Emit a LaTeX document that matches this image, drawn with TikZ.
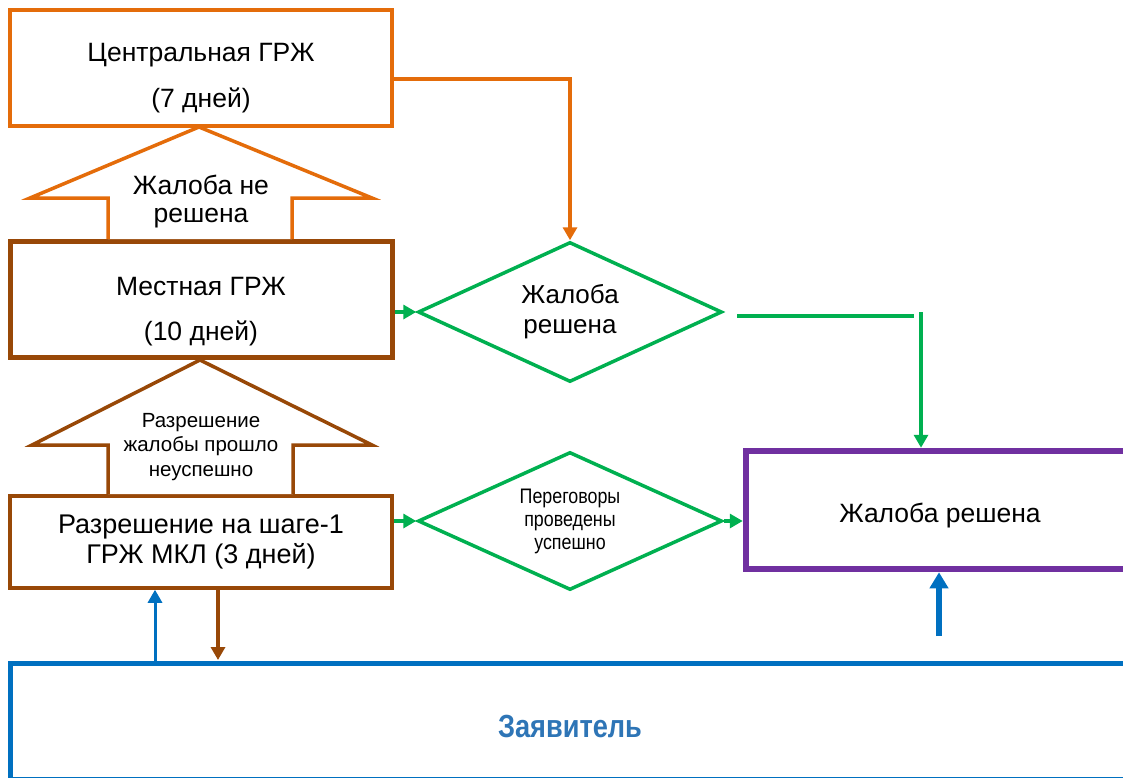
\documentclass[tikz,border=0pt]{standalone}
\usepackage{fontspec}
\setmainfont{Liberation Sans}
\newfontfamily\narrowsf[FakeStretch=0.85]{Liberation Sans}
\usetikzlibrary{shapes.geometric,arrows.meta,positioning,calc}
\definecolor{grzhorange}{RGB}{228,108,10}
\definecolor{grzhbrown}{RGB}{152,72,7}
\definecolor{grzhgreen}{RGB}{0,176,80}
\definecolor{grzhpurple}{RGB}{112,48,160}
\definecolor{grzhblue}{RGB}{0,112,192}
\definecolor{grzhtext}{RGB}{46,117,182}

\begin{document}
\begin{tikzpicture}[
x=1pt, y=-1pt,
stage/.style={
  draw,
  rectangle,
  fill=white,
  inner sep=0pt,
  minimum width=382pt
  },
caption/.style={
  align=center,
  inner sep=0pt,
  font=\fontsize{26.5}{46}\selectfont
  },
check/.style={
  draw=grzhgreen,
  diamond,
  line width=3.5pt,
  align=center,
  inner sep=0pt,
  shape aspect=2.2,
  minimum width=304pt,
  minimum height=140pt
  },
bigarrow/.style={
  line width=3.5pt,
  fill=white,
  line join=miter
  },
flow/.style={
  line width=3.5pt,
  -{Triangle[length=13pt,width=14pt]}
  },
>=latex
]
\useasboundingbox (0,0) rectangle (1123,778);

% стадии
\node[stage, draw=grzhorange, line width=3.5pt, minimum height=116pt] at (201,68)
  (central) {};
\node[caption] at (201,78) (centraltext) {Центральная ГРЖ\\(7 дней)};
\node[stage, draw=grzhbrown, line width=5pt, minimum height=116pt] at (201,299)
  (local) {};
\node[caption, font=\fontsize{26.5}{45}\selectfont] at (201,312)
  (localtext) {Местная ГРЖ\\(10 дней)};
\node[stage, draw=grzhbrown, line width=3.5pt, minimum height=92pt,
  caption, font=\fontsize{27}{30}\selectfont] at (201,542)
  (step1) {Разрешение на шаге-1\\ГРЖ МКЛ (3 дней)};

% широкие стрелки
\draw[bigarrow, draw=grzhorange] (108,239) -- (108,198) -- (30,198) -- (199,127)
  -- (372,198) -- (292,198) -- (292,239);
\node[caption, font=\fontsize{26.5}{28}\selectfont] at (201,202)
  (notsolved) {Жалоба не\\решена};
\draw[bigarrow, draw=grzhbrown] (108,494) -- (108,445) -- (32,445) -- (200,360)
  -- (372,445) -- (293,445) -- (293,494);
\node[caption, font=\fontsize{20.5}{24.5}\selectfont] at (201,447)
  (failed) {Разрешение\\жалобы прошло\\неуспешно};

% ромбы
\node[check, font=\fontsize{26}{30}\selectfont] at (570,312)
  (solved1) {Жалоба\\решена};
\node[check, minimum height=138pt, font=\narrowsf\fontsize{21}{23}\selectfont] at (570,521)
  (talks) {Переговоры\\проведены\\успешно};

% итог и заявитель
\node[draw=grzhpurple, line width=6.5pt, minimum width=389pt, minimum height=118pt]
  at (940.5,510) (result) {};
\node[caption, font=\fontsize{26.5}{30}\selectfont] at (940,516)
  (resulttext) {Жалоба решена};
\node[draw=grzhblue, line width=5pt, minimum width=1125pt, minimum height=116.5pt]
  at (572.5,721.25) (applicant) {};
\node[font=\narrowsf\bfseries\fontsize{32}{34}\selectfont, text=grzhtext] at (570,726)
  (applabel) {Заявитель};

% связи
\draw[flow, grzhorange] ([yshift=-11pt]central.east) -| (solved1.north);
\draw[flow, grzhgreen] (local.east |- solved1.west) -- (solved1.west);
\coordinate (gapl) at (737,316);
\coordinate (gapr) at (914,316);
\coordinate (downtop) at (921,312);
\draw[grzhgreen, line width=3.5pt] (gapl) -- (gapr);
\draw[flow, grzhgreen] (downtop) -- (downtop |- result.north);
\draw[flow, grzhgreen] (step1.east |- talks.west) -- (talks.west);
\draw[flow, grzhgreen] (talks.east) -- (talks.east -| result.west);
\coordinate (upfrom) at (939,636);
\draw[grzhblue, line width=5.5pt, -{Triangle[length=16pt,width=18pt]}]
  (upfrom) -- (upfrom |- result.south);
\draw[flow, grzhblue, line width=3pt] (155,660.5) coordinate (appl1) -- (appl1 |- step1.south);
\draw[flow, grzhbrown] (step1.south -| 218,0) -- (218,660);

\end{tikzpicture}
\end{document}
